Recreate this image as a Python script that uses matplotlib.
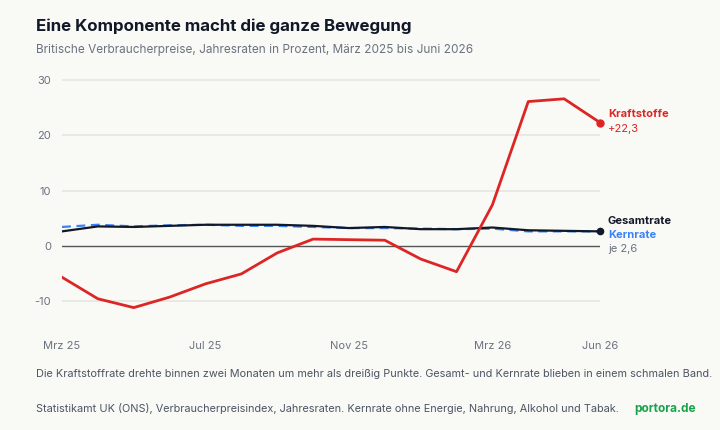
import matplotlib
matplotlib.use("Agg")
import matplotlib.pyplot as plt

plt.rcParams['font.family'] = ['Inter', 'DejaVu Sans']

months = ["Mrz 25", "Apr 25", "Mai 25", "Jun 25", "Jul 25", "Aug 25", "Sep 25", "Okt 25",
          "Nov 25", "Dez 25", "Jan 26", "Feb 26", "Mrz 26", "Apr 26", "Mai 26", "Jun 26"]
kraftstoffe = [-5.7, -9.6, -11.2, -9.3, -6.9, -5.1, -1.3, 1.2, 1.1, 1.0, -2.4, -4.7, 7.4, 26.1, 26.6, 22.3]
gesamtrate = [2.6, 3.5, 3.4, 3.6, 3.8, 3.8, 3.8, 3.6, 3.2, 3.4, 3.0, 3.0, 3.3, 2.8, 2.7, 2.6]
kernrate = [3.4, 3.8, 3.5, 3.7, 3.8, 3.6, 3.6, 3.4, 3.2, 3.2, 3.1, 3.0, 3.1, 2.6, 2.6, 2.6]
xtick_idx = [0, 4, 8, 12, 15]
yticks = [-10, 0, 10, 20, 30]

BG = "#f9f9f6"
RED = "#dc2626"
BLUE = "#3b82f6"
BLACK = "#111827"
GREY = "#6b7280"

fig = plt.figure(figsize=(7.2, 4.3), dpi=100, facecolor=BG)
ax = fig.add_axes([62/720, 1 - 328.6/430, (600-62)/720, (328.6-74.5)/430])
ax.set_facecolor(BG)
x = list(range(len(months)))

ax.set_xlim(0, 15)
ax.set_ylim(-15, 31)
for yv in yticks:
    if yv != 0:
        ax.axhline(yv, color="#e6e6e1", lw=1.2, zorder=0)
ax.axhline(0, color="#555555", lw=1.0, zorder=1)

ax.plot(x, kernrate, color=BLUE, lw=1.6, ls=(0, (4, 2.5)), zorder=3)
ax.plot(x, gesamtrate, color=BLACK, lw=1.6, zorder=4)
ax.plot(x, kraftstoffe, color=RED, lw=2.0, zorder=5)
ax.plot([x[-1]], [kraftstoffe[-1]], 'o', color=RED, ms=5, zorder=6, clip_on=False)
ax.plot([x[-1]], [gesamtrate[-1]], 'o', color=BLACK, ms=4.5, zorder=6, clip_on=False)

for s in ax.spines.values():
    s.set_visible(False)
ax.set_yticks(yticks)
ax.set_yticklabels([str(v) for v in yticks])
ax.set_xticks(xtick_idx)
ax.set_xticklabels([months[i] for i in xtick_idx])
ax.tick_params(axis='both', length=0, labelsize=8, labelcolor=GREY)
ax.tick_params(axis='x', pad=9)
ax.tick_params(axis='y', pad=8)

# end labels
ax.text(15.22, kraftstoffe[-1] + 1.5, "Kraftstoffe", color=RED, fontsize=8, fontweight='bold', va='center', ha='left')
ax.text(15.22, kraftstoffe[-1] - 1.2, "+22,3", color=RED, fontsize=8, va='center', ha='left')
ax.text(15.22, gesamtrate[-1] + 1.9, "Gesamtrate", color=BLACK, fontsize=8, fontweight='bold', va='center', ha='left')
ax.text(15.22, gesamtrate[-1] - 0.6, "Kernrate", color=BLUE, fontsize=8, fontweight='bold', va='center', ha='left')
ax.text(15.22, gesamtrate[-1] - 3.1, "je 2,6", color=GREY, fontsize=8, va='center', ha='left')

fig.text(36/720, 1 - 26/430, "Eine Komponente macht die ganze Bewegung", fontsize=12.2,
         fontweight='bold', color=BLACK, va='center', ha='left')
fig.text(36/720, 1 - 50/430, "Britische Verbraucherpreise, Jahresraten in Prozent, März 2025 bis Juni 2026",
         fontsize=8.5, color=GREY, va='center', ha='left')
fig.text(36/720, 1 - 374/430,
         "Die Kraftstoffrate drehte binnen zwei Monaten um mehr als dreißig Punkte. Gesamt- und Kernrate blieben in einem schmalen Band.",
         fontsize=7.85, color="#4b5563", va='center', ha='left')
fig.text(36/720, 1 - 409/430,
         "Statistikamt UK (ONS), Verbraucherpreisindex, Jahresraten. Kernrate ohne Energie, Nahrung, Alkohol und Tabak.",
         fontsize=7.85, color="#4b5563", va='center', ha='left')
fig.text(634/720, 1 - 409/430, "portora.de", fontsize=8.5, fontweight='bold', color="#16a34a",
         va='center', ha='left')

fig.savefig("out.png", dpi=100, facecolor=BG)
